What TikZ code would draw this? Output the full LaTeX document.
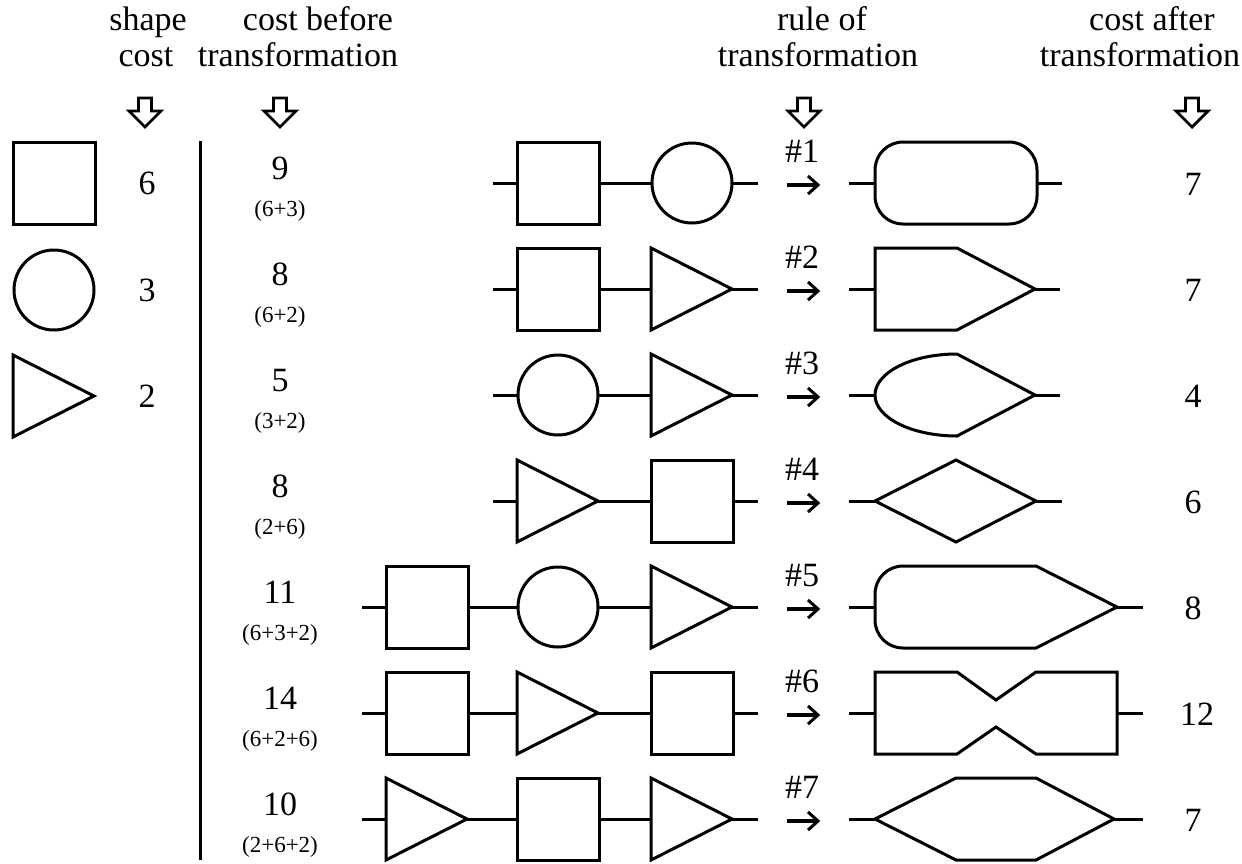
\documentclass[tikz,border=0pt]{standalone}
\usepackage{fontspec}
\setmainfont{Liberation Serif}
\newcommand\hdrfont{\fontsize{34}{37}\selectfont}
\newcommand\bigfont{\fontsize{34}{37}\selectfont}
\newcommand\smallfont{\fontsize{23}{26}\selectfont}
\begin{document}
\begin{tikzpicture}[x=1pt,y=-1pt,
  shp/.style={line width=3pt, line join=miter},
  lead/.style={line width=3pt},
  hdr/.style={font=\hdrfont, anchor=base, inner sep=0pt},
  numbig/.style={font=\bigfont, anchor=base, inner sep=0pt},
  numsmall/.style={font=\smallfont, anchor=base, inner sep=0pt},
  rulelbl/.style={font=\bigfont, anchor=base, inner sep=0pt},
  downarr/.style={line width=2.8pt, line join=miter},
  rarr/.style={line width=3.2pt, line cap=butt},
  sq/.pic={\draw[shp] (-41,-41) rectangle (41,41);
           \coordinate (-w) at (-41,0); \coordinate (-e) at (41,0);},
  ci/.pic={\draw[shp] (0,0) circle[radius=40];
           \coordinate (-w) at (-40,0); \coordinate (-e) at (40,0);},
  tri/.pic={\draw[shp] (-41,-41) -- (40,0) -- (-41,41) -- cycle;
           \coordinate (-w) at (-41,0); \coordinate (-e) at (40,0);},
  hdarrow/.pic={\draw[downarr] (-6.5,0) -- (6.5,0) -- (6.5,13) -- (16,13) -- (0,29)
           -- (-16,13) -- (-6.5,13) -- cycle;},
  goesto/.pic={\coordinate (-a) at (-16,0); \coordinate (-b) at (15,0);
           \draw[rarr] (-a) -- (-b);
           \draw[line width=3pt, line join=miter] (5,-9) -- (15,0) -- (5,9);},
]
\useasboundingbox (0,0) rectangle (1242,863);

% column headings
\node[hdr] (h1a) at (148,30) {shape};
\node[hdr] (h1b) at (146,66) {cost};
\node[hdr] (h2a) at (318,30) {cost before};
\node[hdr] (h2b) at (298,66) {transformation};
\node[hdr] (h3a) at (822,30) {rule of};
\node[hdr] (h3b) at (818,66) {transformation};
\node[hdr] (h4a) at (1152,30) {cost after};
\node[hdr] (h4b) at (1140,66) {transformation};

\pic at (145,98) {hdarrow};
\pic at (280,98) {hdarrow};
\pic at (804,98) {hdarrow};
\pic at (1192,98) {hdarrow};

% legend of the three shapes and their costs
\pic (lsq) at (54,183) {sq};
\pic (lci) at (54,290) {ci};
\pic (ltr) at (54,396) {tri};
\node[numbig] (lc1) at (147,194) {6};
\node[numbig] (lc2) at (147,301) {3};
\node[numbig] (lc3) at (147,407) {2};

% divider
\coordinate (divtop) at (200,141);
\coordinate (divbot) at (200,860);
\draw[line width=3pt] (divtop) -- (divbot);

% cost before transformation
\foreach \r/\big/\small in {183/9/(6+3), 289/8/(6+2), 395/5/(3+2), 501/8/(2+6),
                            607/11/(6+3+2), 713/14/(6+2+6), 819/10/(2+6+2)}{
  \node[numbig] at (280,\r-4) {\big};
  \node[numsmall] at (280,\r+33) {\small};
}

% rule numbers and arrows
\foreach \k/\r in {1/183, 2/289, 3/395, 4/501, 5/607, 6/713, 7/819}{
  \node[rulelbl] at (802,\r-21) {\#\k};
  \pic (g\k) at (803,\r+2) {goesto};
}

% cost after transformation
\foreach \r/\c in {183/7, 289/7, 395/4, 501/6, 607/8, 819/7}{
  \node[numbig] at (1193,\r+12) {\c};
}
\node[numbig] (c6) at (1197,725) {12};

% ---- row 1: square + circle
\pic (a1) at (558,183) {sq};
\pic (b1) at (692,183) {ci};
\coordinate (i1) at (493,183); \coordinate (o1) at (758,183);
\draw[lead] (i1) -- (a1-w) (a1-e) -- (b1-w) (b1-e) -- (o1);
\draw[shp, rounded corners=28] (875,142) rectangle (1037,224);
\coordinate (p1) at (875,183); \coordinate (q1) at (1037,183);
\coordinate (s1) at (849,183); \coordinate (t1) at (1062,183);
\draw[lead] (s1) -- (p1) (q1) -- (t1);

% ---- row 2: square + triangle
\pic (a2) at (558,289) {sq};
\pic (b2) at (692,289) {tri};
\coordinate (i2) at (493,289); \coordinate (o2) at (758,289);
\draw[lead] (i2) -- (a2-w) (a2-e) -- (b2-w) (b2-e) -- (o2);
\draw[shp] (875,248) -- (957,248) -- (1035,289) -- (957,330) -- (875,330) -- cycle;
\coordinate (p2) at (875,289); \coordinate (q2) at (1035,289);
\coordinate (s2) at (849,289); \coordinate (t2) at (1060,289);
\draw[lead] (s2) -- (p2) (q2) -- (t2);

% ---- row 3: circle + triangle
\pic (a3) at (558,395) {ci};
\pic (b3) at (692,395) {tri};
\coordinate (i3) at (493,395); \coordinate (o3) at (758,395);
\draw[lead] (i3) -- (a3-w) (a3-e) -- (b3-w) (b3-e) -- (o3);
\draw[shp] (957,354) arc[start angle=270, end angle=90, x radius=82, y radius=41]
  -- (1035,395) -- cycle;
\coordinate (p3) at (875,395); \coordinate (q3) at (1035,395);
\coordinate (s3) at (849,395); \coordinate (t3) at (1060,395);
\draw[lead] (s3) -- (p3) (q3) -- (t3);

% ---- row 4: triangle + square
\pic (a4) at (558,501) {tri};
\pic (b4) at (692,501) {sq};
\coordinate (i4) at (493,501); \coordinate (o4) at (758,501);
\draw[lead] (i4) -- (a4-w) (a4-e) -- (b4-w) (b4-e) -- (o4);
\draw[shp] (875,501) -- (956,460) -- (1036,501) -- (956,542) -- cycle;
\coordinate (p4) at (875,501); \coordinate (q4) at (1036,501);
\coordinate (s4) at (849,501); \coordinate (t4) at (1062,501);
\draw[lead] (s4) -- (p4) (q4) -- (t4);

% ---- row 5: square + circle + triangle
\pic (a5) at (427,607) {sq};
\pic (b5) at (558,607) {ci};
\pic (c5) at (692,607) {tri};
\coordinate (i5) at (362,607); \coordinate (o5) at (758,607);
\draw[lead] (i5) -- (a5-w) (a5-e) -- (b5-w) (b5-e) -- (c5-w) (c5-e) -- (o5);
\draw[shp] (1036,566) -- (1117,607) -- (1036,648) -- (903,648)
  arc[start angle=90, end angle=180, radius=28] -- (875,594)
  arc[start angle=180, end angle=270, radius=28] -- cycle;
\coordinate (p5) at (875,607); \coordinate (q5) at (1117,607);
\coordinate (s5) at (849,607); \coordinate (t5) at (1143,607);
\draw[lead] (s5) -- (p5) (q5) -- (t5);

% ---- row 6: square + triangle + square
\pic (a6) at (427,713) {sq};
\pic (b6) at (558,713) {tri};
\pic (c6s) at (692,713) {sq};
\coordinate (i6) at (362,713); \coordinate (o6) at (758,713);
\draw[lead] (i6) -- (a6-w) (a6-e) -- (b6-w) (b6-e) -- (c6s-w) (c6s-e) -- (o6);
\draw[shp] (875,672) -- (957,672) -- (996,700) -- (1036,672) -- (1117,672) -- (1117,754)
  -- (1036,754) -- (996,727) -- (957,754) -- (875,754) -- cycle;
\coordinate (p6) at (875,713); \coordinate (q6) at (1117,713);
\coordinate (s6) at (849,713); \coordinate (t6) at (1143,713);
\draw[lead] (s6) -- (p6) (q6) -- (t6);

% ---- row 7: triangle + square + triangle
\pic (a7) at (427,819) {tri};
\pic (b7) at (558,819) {sq};
\pic (c7) at (692,819) {tri};
\coordinate (i7) at (362,819); \coordinate (o7) at (758,819);
\draw[lead] (i7) -- (a7-w) (a7-e) -- (b7-w) (b7-e) -- (c7-w) (c7-e) -- (o7);
\draw[shp] (875,819) -- (956,778) -- (1036,778) -- (1114,819) -- (1036,860) -- (956,860) -- cycle;
\coordinate (p7) at (875,819); \coordinate (q7) at (1114,819);
\coordinate (s7) at (849,819); \coordinate (t7) at (1143,819);
\draw[lead] (s7) -- (p7) (q7) -- (t7);
\end{tikzpicture}
\end{document}
